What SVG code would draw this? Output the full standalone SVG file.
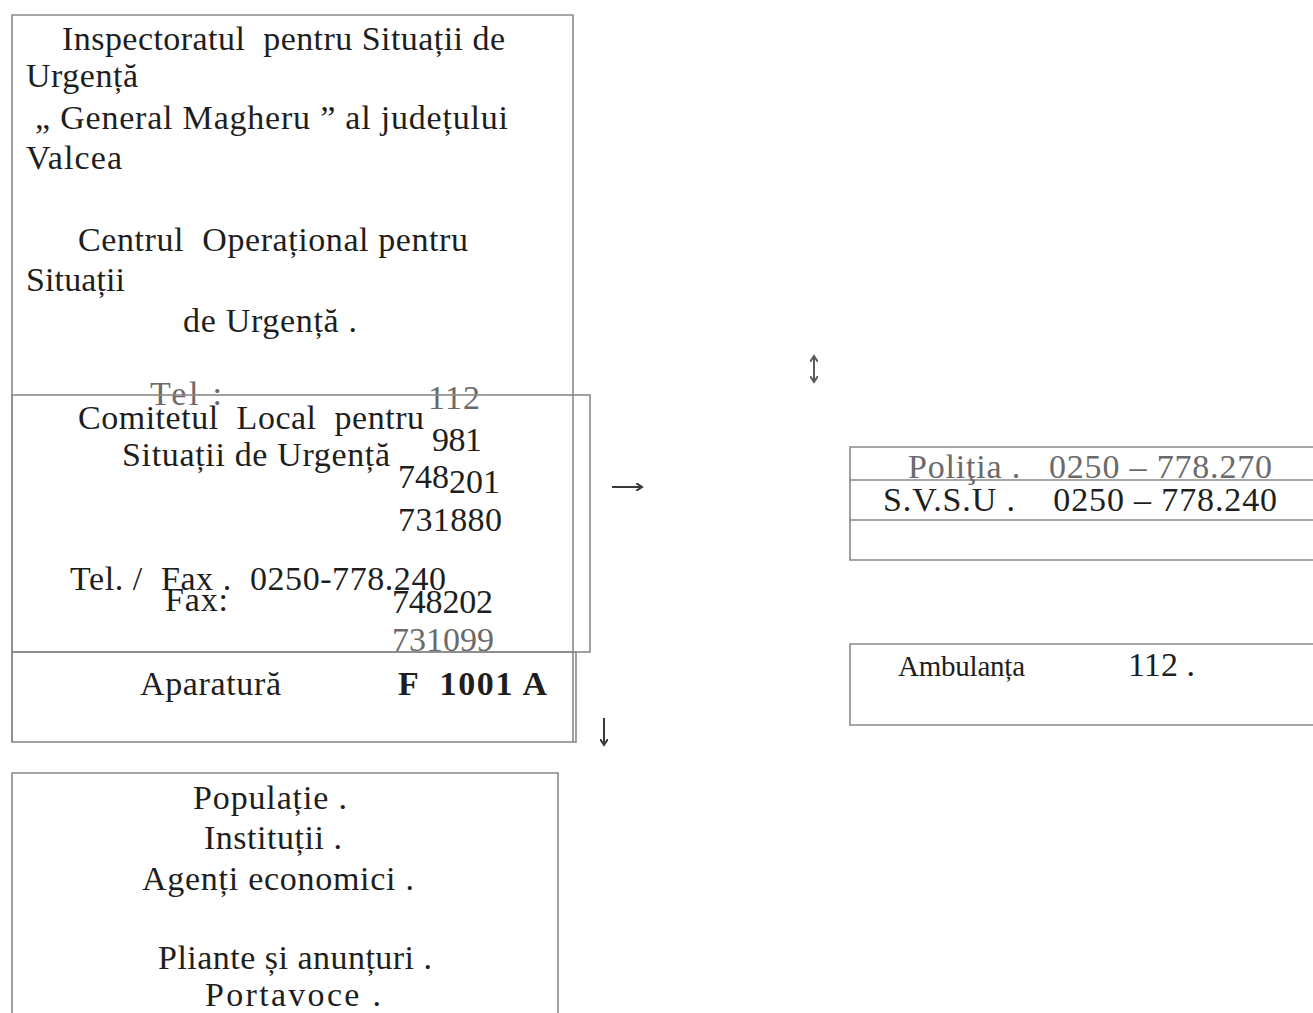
<svg xmlns="http://www.w3.org/2000/svg" width="1313" height="1013" viewBox="0 0 1313 1013">
<style>
.box{fill:none;stroke:#8a8a8a;stroke-width:1.6}
.t{font-family:"Liberation Serif","Times New Roman",serif;fill:#1e1e1e;font-size:34px;white-space:pre}
.g{fill:#6a6a6a}
.b{font-weight:bold}
.con{stroke:#3a3a3a;stroke-width:2;fill:none}
</style>
<defs>
<marker id="ah" markerWidth="8" markerHeight="8" refX="6" refY="4" orient="auto" markerUnits="userSpaceOnUse">
<path d="M0,0 L6,4 L0,8" fill="none" stroke="#3a3a3a" stroke-width="2"/>
</marker>
<marker id="ahs" markerWidth="8" markerHeight="8" refX="6" refY="4" orient="auto-start-reverse" markerUnits="userSpaceOnUse">
<path d="M0,0 L6,4 L0,8" fill="none" stroke="#5a5a5a" stroke-width="2"/>
</marker>
</defs>
<rect width="1313" height="1013" fill="#ffffff"/>

<g id="inspectorat">
<path class="box" d="M12,742 L12,15 L573,15 L573,742"/>
<text class="t" x="62" y="50" textLength="443" lengthAdjust="spacing">Inspectoratul  pentru Situații de</text>
<text class="t" x="26" y="87" textLength="112" lengthAdjust="spacing">Urgență</text>
<text class="t" x="35" y="129" textLength="473" lengthAdjust="spacing">„ General Magheru ” al județului</text>
<text class="t" x="26" y="169" textLength="96" lengthAdjust="spacing">Valcea</text>
<text class="t" x="78" y="251" textLength="390" lengthAdjust="spacing">Centrul  Operațional pentru</text>
<text class="t" x="26" y="291" textLength="99" lengthAdjust="spacing">Situații</text>
<text class="t" x="183" y="332" textLength="174" lengthAdjust="spacing">de Urgență .</text>
<text class="t g" x="150" y="405" textLength="72" lengthAdjust="spacing">Tel :</text>
<text class="t g" x="428" y="409" textLength="52" lengthAdjust="spacing">112</text>
</g>

<g id="comitet">
<rect class="box" x="12" y="395" width="578" height="257"/>
<text class="t" x="78" y="429" textLength="346" lengthAdjust="spacing">Comitetul  Local  pentru</text>
<text class="t" x="122" y="466" textLength="268" lengthAdjust="spacing">Situații de Urgență</text>
<text class="t" x="432" y="451" textLength="50" lengthAdjust="spacing">981</text>
<text class="t" x="398" y="488" textLength="51" lengthAdjust="spacing">748</text>
<text class="t" x="449" y="493" textLength="51" lengthAdjust="spacing">201</text>
<text class="t" x="398" y="531" textLength="104" lengthAdjust="spacing">731880</text>
<text class="t" x="70" y="590" textLength="376" lengthAdjust="spacing">Tel. /  Fax .  0250-778.240</text>
<text class="t" x="165" y="611" textLength="63" lengthAdjust="spacing">Fax:</text>
<text class="t" x="392" y="613" textLength="101" lengthAdjust="spacing">748202</text>
<text class="t g" x="392" y="651" textLength="102" lengthAdjust="spacing">731099</text>
</g>

<g id="aparatura">
<rect class="box" x="12" y="652" width="564" height="90"/>
<text class="t" x="140" y="695" textLength="141" lengthAdjust="spacing">Aparatură</text>
<text class="t b" x="398" y="695" textLength="149" lengthAdjust="spacing">F  1001 A</text>
</g>

<g id="politia">
<path class="box" d="M1313,447 L850,447 L850,560 L1313,560 M850,480 L1313,480 M850,520 L1313,520"/>
<text class="t g" x="908" y="478" textLength="364" lengthAdjust="spacing">Poliţia .   0250 – 778.270</text>
<text class="t" x="883" y="511" textLength="394" lengthAdjust="spacing">S.V.S.U .    0250 – 778.240</text>
</g>

<g id="ambulanta">
<path class="box" d="M1313,644 L850,644 L850,725 L1313,725"/>
<text class="t" x="898" y="676" style="font-size:29px" textLength="127" lengthAdjust="spacing">Ambulanța</text>
<text class="t" x="1128" y="676" textLength="67" lengthAdjust="spacing">112 .</text>
</g>

<g id="populatie">
<path class="box" d="M12,1013 L12,773 L558,773 L558,1013"/>
<text class="t" x="193" y="809" textLength="154" lengthAdjust="spacing">Populație .</text>
<text class="t" x="204" y="849" textLength="138" lengthAdjust="spacing">Instituții .</text>
<text class="t" x="142" y="890" textLength="272" lengthAdjust="spacing">Agenți economici .</text>
<text class="t" x="158" y="969" textLength="274" lengthAdjust="spacing">Pliante și anunțuri .</text>
<text class="t" x="205" y="1006" textLength="176" lengthAdjust="spacing">Portavoce .</text>
</g>

<g id="connectors">
<path class="con" d="M612,487 L642,487" marker-end="url(#ah)"/>
<path class="con" d="M604,718 L604,745" marker-end="url(#ah)"/>
<path class="con" style="stroke:#5a5a5a" d="M814,356 L814,382" marker-start="url(#ahs)" marker-end="url(#ahs)"/>
</g>
</svg>
